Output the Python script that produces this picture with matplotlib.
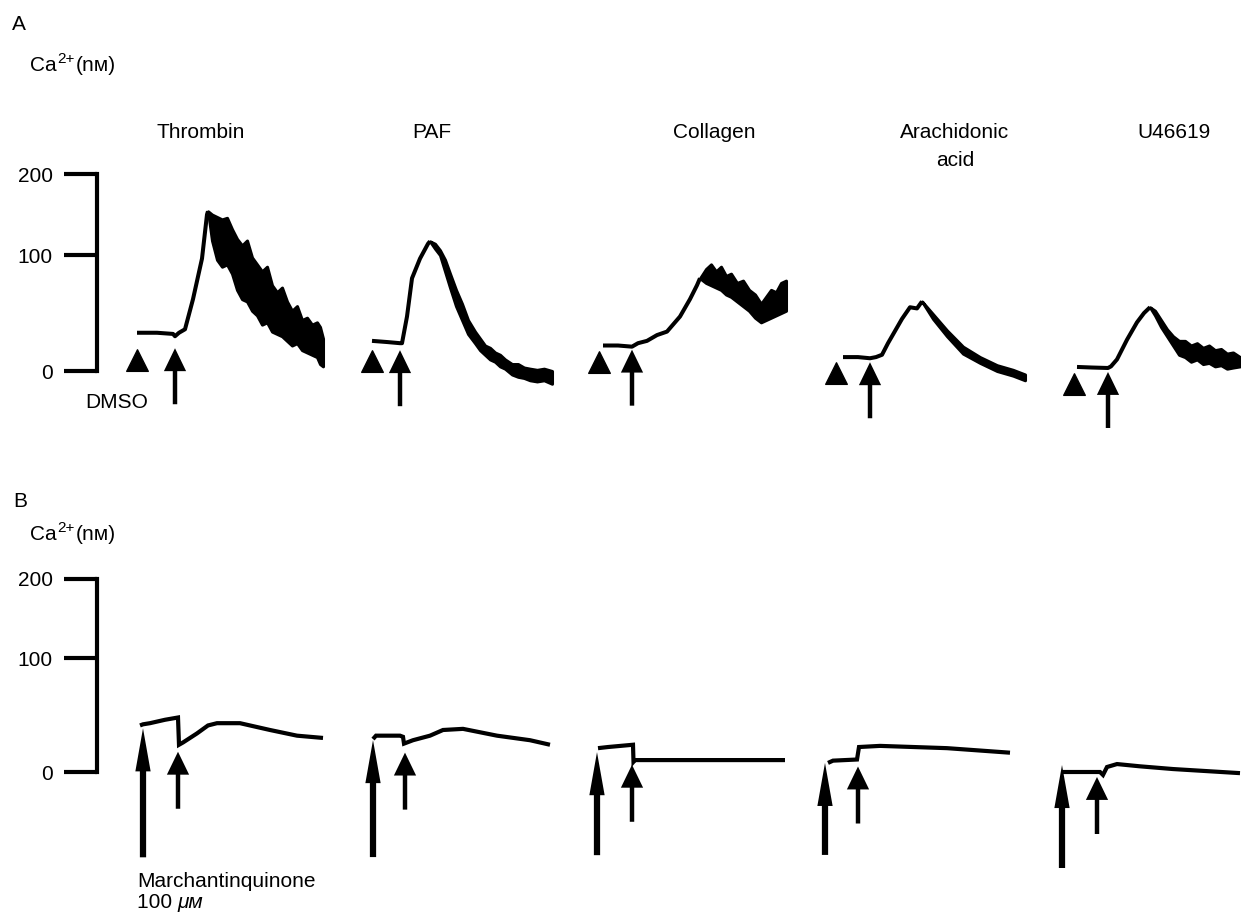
import numpy as np
import matplotlib
matplotlib.use('Agg')
import matplotlib.pyplot as plt
from matplotlib.transforms import offset_copy

plt.rcParams['font.family'] = ['Liberation Sans', 'DejaVu Sans']

# ---- data: Ca2+ (nM) traces, time in s from start of each recording ----
agonists = ['Thrombin', 'PAF', 'Collagen', 'Arachidonic\nacid', 'U46619']

# panel A (DMSO pretreatment): smooth part of each trace
a_t = [
    [0, 20, 36, 38, 42, 48, 56, 65, 70, 71],
    [0, 15, 28, 30, 35, 40, 48, 56, 58],
    [0, 15, 29, 35, 44, 54, 64, 77, 87, 94, 97],
    [0, 15, 27, 33, 39, 45, 49, 59, 67, 74, 79],
    [0, 15, 31, 34, 40, 50, 60, 67, 73],
]
a_v = [
    [33, 33, 32, 30, 33, 36, 62, 97, 150, 154],
    [26, 25, 24, 24, 47, 80, 97, 114, 117],
    [22, 22, 21, 24, 26, 31, 34, 47, 62, 74, 80],
    [12, 12, 11, 12, 14, 24, 30, 45, 55, 54, 60],
    [3.5, 3, 2.6, 4, 10, 27, 42, 50, 55],
]
# noisy decay: lower / upper envelope
a_bt = [
    [71, 75, 80, 85, 90, 95, 100, 105, 110, 115, 120, 125, 130, 135, 140,
     145, 150, 155, 160, 165, 170, 175, 180, 183, 186],
    [58, 63, 68, 73, 78, 84, 90, 96, 103, 108, 113, 118, 123, 128, 133, 140,
     146, 152, 158, 165, 172, 180],
    [97, 103, 108, 113, 118, 123, 128, 134, 140, 146, 152, 158, 163, 168,
     173, 178, 183],
    [79, 90, 104, 120, 137, 154, 170, 182],
    [73, 78, 84, 90, 96, 102, 108, 114, 120, 126, 132, 138, 144, 150, 156,
     163],
]
a_lo = [
    [154, 118, 96, 90, 92, 84, 70, 62, 60, 52, 48, 40, 42, 34, 32, 30, 26,
     22, 24, 18, 16, 14, 12, 6, 4],
    [117, 108, 100, 86, 72, 56, 44, 32, 24, 18, 14, 10, 8, 4, 2, -3, -5, -6,
     -8, -9, -8, -11],
    [80, 76, 74, 72, 70, 66, 64, 60, 56, 52, 46, 42, 44, 46, 48, 50, 52],
    [60, 45, 30, 15, 7, 0, -4, -8],
    [55, 48, 38, 30, 22, 14, 12, 8, 10, 6, 7, 4, 5, 2, 3, 4],
]
a_hi = [
    [154, 150, 147, 144, 146, 132, 120, 112, 118, 98, 92, 86, 90, 74, 68,
     72, 60, 52, 56, 44, 46, 40, 42, 38, 28],
    [117, 114, 106, 96, 84, 70, 58, 44, 34, 28, 22, 20, 16, 14, 10, 6, 6, 3,
     2, 1, 2, 0],
    [80, 88, 92, 86, 90, 82, 84, 76, 78, 70, 66, 58, 64, 70, 68, 76, 78],
    [60, 49, 35, 21, 12, 5, 1, -3],
    [55, 52, 44, 36, 30, 26, 26, 22, 24, 20, 22, 18, 19, 15, 16, 12],
]
a_dmso = [0, 0, -4, -7, -3]
a_agonist = [38, 28, 29, 27, 31]

# panel B (marchantinquinone 100 uM pretreatment)
b_t = [
    [0, 3, 10, 25, 38, 39, 43, 57, 68, 77, 100, 130, 157, 183],
    [0, 3, 27, 30, 31, 40, 57, 70, 90, 124, 157, 177],
    [0, 10, 35, 35.5, 37, 187],
    [0, 5, 29, 31, 52, 119, 182],
    [0, 38, 41, 45, 55, 78, 111, 178],
]
b_v = [
    [41, 42, 43, 46, 48, 24, 26, 34, 41, 43, 43, 37, 32, 30],
    [29, 32, 32, 31, 25, 28, 32, 37, 38, 32, 28, 24],
    [21, 22, 24, 9, 10.5, 10.5],
    [8, 10, 11, 22, 23, 21, 17],
    [0, 0, -2.6, 4.4, 7, 5, 2.6, -1],
]
b_mq = [3, 0, -1, -3, 0]
b_agonist = [38, 32, 34, 30, 35]

# ---- layout (pixels of the 1241 x 914 figure) ----
W, H = 1241, 914
a_start = [137, 372, 603, 843, 1077]
b_start = [140, 373, 598, 828, 1062]
a_tri_drop = [27, 20, 16, 16, 17]
a_arr_drop = [12, 7, 3, 4, 4]
b_big_drop = [4, 1, 4, 0, -7]
b_big_len = [129, 117, 103, 92, 103]
b_arr_drop = [7, 9, 3, 7, 5]


def fwd(c):
    c = np.asarray(c, float)
    return np.where(c <= 100, c / 100.0, 1 + (c - 100) * 0.007)


def inv(u):
    u = np.asarray(u, float)
    return np.where(u <= 1, u * 100.0, 100 + (u - 1) / 0.007)


def level(t, v, at):
    t = np.asarray(t, float)
    v = np.asarray(v, float)
    m = np.abs(t - at) <= 2
    if m.any():
        return v[m].min()
    return float(np.interp(at, t, v))


fig = plt.figure(figsize=(W / 100, H / 100), dpi=100)
ax0 = fig.add_axes([0, 0, 1, 1])
ax0.axis('off')


def make_panel(zero_px, top_px, ymin, starts):
    ppu = (zero_px - top_px) / float(fwd(200))
    bot_px = zero_px - float(fwd(ymin)) * ppu
    hh = (bot_px - top_px) / H
    sc = fig.add_axes([97 / W, 1 - bot_px / H, 12 / W, hh])
    sc.set_yscale('function', functions=(fwd, inv))
    sc.set_ylim(ymin, 200)
    for s in ['top', 'right', 'bottom']:
        sc.spines[s].set_visible(False)
    sc.spines['left'].set_bounds(0, 200)
    sc.spines['left'].set_linewidth(3)
    sc.spines['left'].set_capstyle('projecting')
    sc.set_yticks([0, 100, 200])
    sc.set_yticklabels(['0', '100', '200'])
    sc.tick_params(axis='y', length=24, width=3, pad=8, labelsize=15)
    sc.set_xticks([])
    sc.patch.set_visible(False)
    axes = []
    for st in starts:
        ax = fig.add_axes([(st - 15) / W, 1 - bot_px / H, 205 / W, hh])
        ax.set_yscale('function', functions=(fwd, inv))
        ax.set_xlim(-15, 190)
        ax.set_ylim(ymin, 200)
        ax.axis('off')
        axes.append(ax)
    return axes


def arrow(ax, at, lev, drop, length, big=False):
    tr = offset_copy(ax.transData, fig=fig, y=-drop, units='dots')
    if big:
        style = 'simple,head_length=3.1,head_width=1.1,tail_width=0.45'
    else:
        style = 'simple,head_length=1.65,head_width=1.6,tail_width=0.32'
    props = dict(arrowstyle=style, mutation_scale=10, lw=0, fc='black',
                 ec='none', shrinkA=0, shrinkB=0)
    ax.annotate('', xy=(at, lev), xycoords=tr, xytext=(0, -length),
                textcoords='offset pixels', arrowprops=props,
                annotation_clip=False)


# panel A
axA = make_panel(371, 174, -40, a_start)
for i, ax in enumerate(axA):
    ax.plot(a_t[i], a_v[i], color='black', lw=2.9, solid_joinstyle='round',
            solid_capstyle='butt', clip_on=False)
    ax.fill_between(a_bt[i], a_lo[i], a_hi[i], color='black', lw=2.2,
                    edgecolor='black', clip_on=False)
    lv = level(a_t[i], a_v[i], a_dmso[i])
    tr = offset_copy(ax.transData, fig=fig, y=-a_tri_drop[i], units='dots')
    ax.plot([a_dmso[i]], [lv], marker='^', ms=16, color='black', mew=0.8,
            transform=tr, clip_on=False)
    lv = level(a_t[i], a_v[i], a_agonist[i])
    arrow(ax, a_agonist[i], lv, a_arr_drop[i], 56)

# panel B
axB = make_panel(772, 579, -100, b_start)
for i, ax in enumerate(axB):
    ax.plot(b_t[i], b_v[i], color='black', lw=3.0, solid_joinstyle='miter',
            solid_capstyle='butt', clip_on=False)
    lv = level(b_t[i], b_v[i], b_mq[i])
    arrow(ax, b_mq[i], lv, b_big_drop[i], b_big_len[i], big=True)
    lv = level(b_t[i], b_v[i], b_agonist[i])
    arrow(ax, b_agonist[i], lv, b_arr_drop[i], 57)

# ---- text ----
fs = 15


def ftext(x, y, s, **kw):
    kw.setdefault('fontsize', fs)
    return ax0.text(x / W, 1 - y / H, s, transform=ax0.transAxes, **kw)


ftext(12, 30, 'A', va='baseline')
ftext(13, 507, 'B', va='baseline')

for yb in [71, 540]:
    t1 = ftext(30, yb, 'Ca', va='baseline')
    t2 = ax0.annotate('2+', xy=(1, 1), xycoords=t1, xytext=(0.5, -2),
                      textcoords='offset points', fontsize=11, va='center',
                      ha='left')
    ax0.annotate('(n\u1d0d)', xy=(1, 0), xycoords=(t2, t1), xytext=(1, 0),
                 textcoords='offset points', fontsize=fs, va='bottom',
                 ha='left')

centers = [201, 432, 714, 955, 1174]
for name, cx in zip(agonists, centers):
    lines = name.split('\n')
    for k, ln in enumerate(lines):
        ftext(cx, 138 + 28 * k, ln, ha='center', va='baseline')

ftext(85, 408, 'DMSO', va='baseline')
ftext(137, 887, 'Marchantinquinone', va='baseline')
t100 = ftext(137, 908, '100 ', va='baseline')
ax0.annotate('\u03bc\u1d0d', xy=(1, 0), xycoords=t100, fontsize=fs,
             style='italic', va='bottom', ha='left')

fig.savefig('out.png', dpi=100)
